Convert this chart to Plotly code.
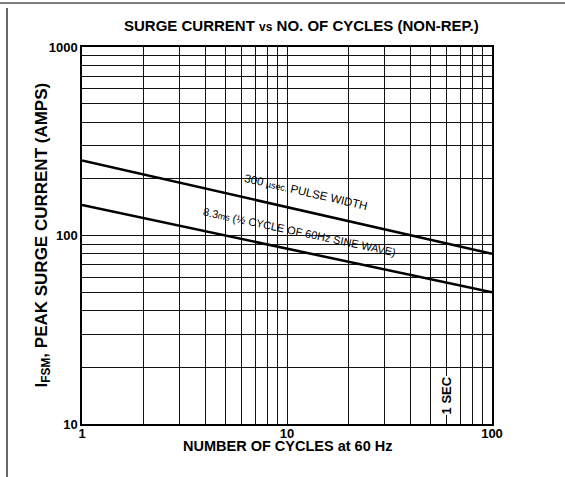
import plotly.graph_objects as go

# Data
cycles = [1, 10, 100]
pulse_300us = [250, 142, 80]        # 300 µsec pulse width
half_cycle_8_3ms = [145, 85, 50]    # 8.3 ms (1/2 cycle of 60 Hz)

x_grid = [1, 2, 3, 4, 5, 6, 7, 8, 9, 10, 20, 30, 40, 50, 60, 70, 80, 90, 100]
x_labels = ["1", "", "", "", "", "", "", "", "", "10", "", "", "", "", "", "", "", "", "100"]
y_grid = [10, 20, 30, 40, 50, 60, 70, 80, 90, 100, 200, 300, 400, 500, 600, 700, 800, 900, 1000]
y_labels = ["10", "", "", "", "", "", "", "", "", "100", "", "", "", "", "", "", "", "", "1000"]

FONT = "Liberation Sans, Arial, sans-serif"

fig = go.Figure()
fig.add_trace(go.Scatter(x=cycles, y=pulse_300us, mode="lines",
                         line=dict(color="black", width=2.5), showlegend=False))
fig.add_trace(go.Scatter(x=cycles, y=half_cycle_8_3ms, mode="lines",
                         line=dict(color="black", width=2.5), showlegend=False))

axis_common = dict(type="log", showgrid=True, gridcolor="#111111", gridwidth=1,
                   showline=True, linecolor="black", linewidth=1.5, mirror=True,
                   ticks="", zeroline=False,
                   tickfont=dict(family=FONT, size=13, color="black", weight="bold"))

fig.update_xaxes(range=[0, 2], tickvals=x_grid, ticktext=x_labels,
                 ticklabelstandoff=-3, **axis_common)
fig.update_yaxes(range=[1, 3], tickvals=y_grid, ticktext=y_labels, **axis_common)

ann = []
ann.append(dict(text="<b>SURGE CURRENT <span style='font-size:12px'>vs</span> NO. OF CYCLES (NON-REP.)</b>",
                xref="paper", yref="paper", x=0.535, y=1.0, yshift=22, yanchor="middle",
                showarrow=False, font=dict(family=FONT, size=15, color="black")))
ann.append(dict(text="<b>NUMBER OF CYCLES at 60 Hz</b>", xref="paper", yref="paper",
                x=0.5, y=0, yshift=-22, yanchor="middle", showarrow=False,
                font=dict(family=FONT, size=14.5, color="black")))
ann.append(dict(text="<b>I<sub>FSM</sub>, PEAK SURGE CURRENT (AMPS)</b>", xref="paper", yref="paper",
                x=0, xshift=-40, xanchor="center", y=0.50, yanchor="middle", textangle=-90,
                showarrow=False, font=dict(family=FONT, size=17, color="black")))
ann.append(dict(text="300 <span style='font-size:9px'>µsec.</span> PULSE WIDTH", xref="x", yref="y",
                x=1.093, y=2.215, yshift=3, textangle=13, showarrow=False,
                font=dict(family=FONT, size=11.5, color="black")))
ann.append(dict(text="8.3<span style='font-size:9px'>ms</span> (½ CYCLE OF 60Hz SINE WAVE)", xref="x", yref="y",
                x=1.063, y=1.99, yshift=5, textangle=12, showarrow=False,
                font=dict(family=FONT, size=11, color="black")))
ann.append(dict(text="<b>1 SEC</b>", xref="x", yref="y", x=1.778, y=1.154, textangle=-90,
                showarrow=False, bgcolor="white", borderpad=0,
                font=dict(family=FONT, size=13, color="black")))

pw = 565 - 82 - 73
ph = 477 - 47 - 53
def px_to_paper_x(px):
    return (px - 82) / pw
def px_to_paper_y(py):
    return (477 - 53 - py) / ph

fig.update_layout(
    width=565, height=477,
    margin=dict(l=82, r=73, t=47, b=53),
    paper_bgcolor="white", plot_bgcolor="white",
    annotations=ann,
    shapes=[
        dict(type="line", xref="paper", yref="paper",
             x0=px_to_paper_x(0), x1=px_to_paper_x(565), y0=px_to_paper_y(3), y1=px_to_paper_y(3),
             line=dict(color="black", width=1.2)),
        dict(type="line", xref="paper", yref="paper",
             x0=px_to_paper_x(7), x1=px_to_paper_x(7), y0=px_to_paper_y(8), y1=px_to_paper_y(477),
             line=dict(color="black", width=1.2)),
    ],
)

fig.write_html("out.html", config={"displayModeBar": False},
               post_script="document.body.style.margin='0';")
